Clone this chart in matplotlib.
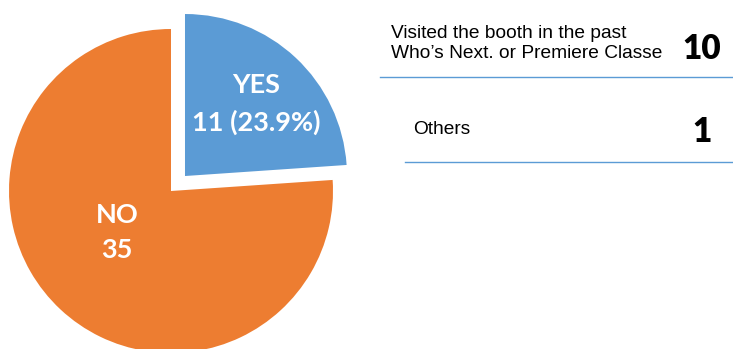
import matplotlib
matplotlib.use("Agg")
import matplotlib.pyplot as plt

categories = ["YES", "NO"]
values = [11, 35]
colors = ["#5B9BD5", "#ED7D31"]
detail_items = ["Visited the booth in the past\nWho\u2019s Next. or Premiere Classe", "Others"]
detail_counts = [10, 1]

W, H = 733, 349
fig = plt.figure(figsize=(W / 100, H / 100), dpi=100)
ax = fig.add_axes([0, 0, 1, 1])

cx, cy, r = 171, H - 191, 162
wedges, _ = ax.pie(values, colors=colors, startangle=90, counterclock=False,
                   center=(cx, cy), radius=r, explode=[20.5, 0],
                   wedgeprops=dict(linewidth=0), frame=True)
ax.set_xlim(0, W)
ax.set_ylim(0, H)
ax.set_aspect("equal")
ax.axis("off")

total = sum(values)
lab_font = dict(family=["Lato", "DejaVu Sans"], fontweight="bold", color="white", fontsize=19.5)
ax.text(256, H - 85, categories[0], ha="center", va="center", **lab_font)
ax.text(256, H - 122, f"{values[0]} ({values[0] / total * 100:.1f}%)", ha="center", va="center", **lab_font)
ax.text(117, H - 215, categories[1], ha="center", va="center", **lab_font)
ax.text(117, H - 250, f"{values[1]}", ha="center", va="center", **lab_font)

# right-hand detail panel
txt_font = dict(family=["Liberation Sans", "DejaVu Sans"], color="black", fontsize=13.8)
num_font = dict(family=["Lato", "DejaVu Sans"], fontweight="heavy", color="black", fontsize=24)
ax.text(391, H - 43.5, detail_items[0], ha="left", va="center", linespacing=1.2, **txt_font)
ax.text(702, H - 49, str(detail_counts[0]), ha="center", va="center", **num_font)
ax.plot([380, 733], [H - 77, H - 77], color="#5B9BD5", lw=1)
ax.text(413, H - 130, detail_items[1], ha="left", va="center", **txt_font)
ax.text(702, H - 132, str(detail_counts[1]), ha="center", va="center", **num_font)
ax.plot([405, 733], [H - 162, H - 162], color="#5B9BD5", lw=1)

fig.savefig("out.png", dpi=100)
